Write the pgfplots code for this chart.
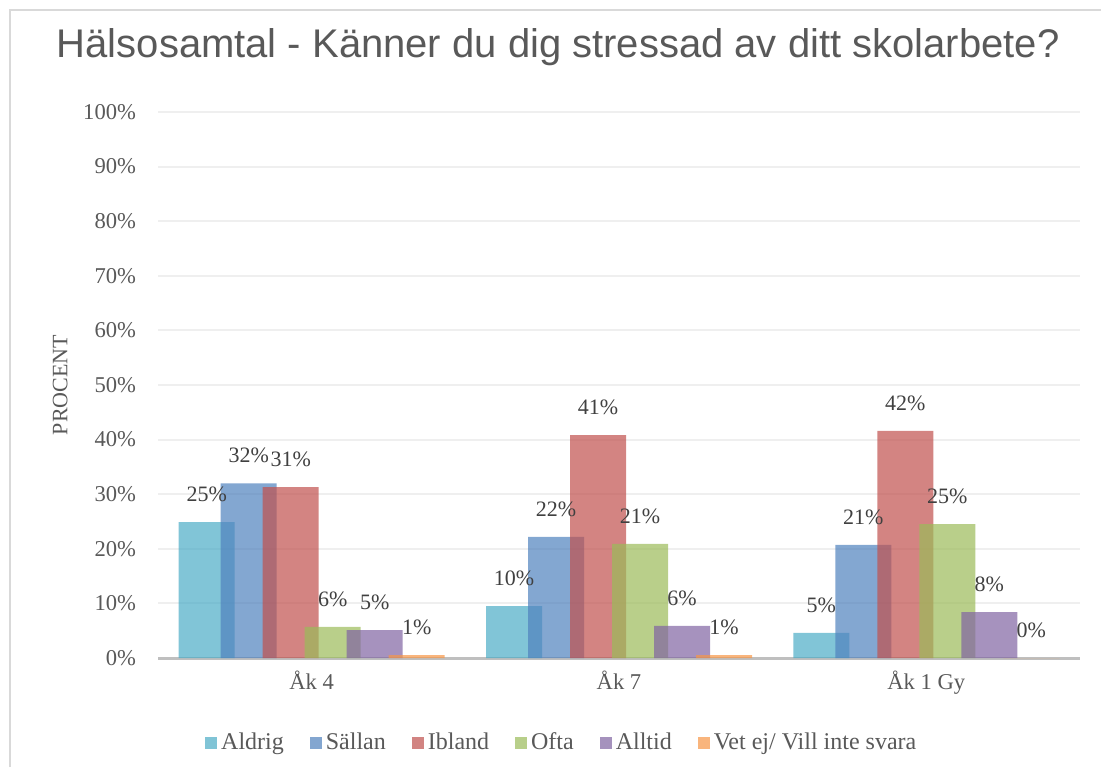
\documentclass[border=0pt]{standalone}
\usepackage{pgfplots}
\pgfplotsset{compat=1.18}
\usepackage{fontspec}
\setmainfont{Liberation Serif}
\newfontfamily\titlefont{Liberation Sans}
\definecolor{cA}{HTML}{4BACC6}
\definecolor{cB}{HTML}{4F81BD}
\definecolor{cC}{HTML}{C0504D}
\definecolor{cD}{HTML}{9BBB59}
\definecolor{cE}{HTML}{8064A2}
\definecolor{cF}{HTML}{F79646}
\definecolor{txt}{HTML}{595959}
\definecolor{lbl}{HTML}{404040}
\definecolor{gridc}{HTML}{EFEFEF}
\definecolor{axc}{HTML}{BFBFBF}
\definecolor{frame}{HTML}{D9D9D9}
\begin{document}
\begin{tikzpicture}
\path[use as bounding box] (-79pt,-54.5pt) rectangle (471.5pt,329pt);
\draw[color=frame, line width=1pt] (-74pt,-54.5pt) -- (-74pt,324pt) -- (471.5pt,324pt);
\begin{axis}[
  at={(0,0)}, anchor=south west,
  scale only axis, width=461pt, height=273pt,
  xmin=-0.5, xmax=2.5, ymin=0, ymax=100,
  xtick={0,1,2}, xticklabels={Åk 4,Åk 7,Åk 1 Gy},
  ytick={0,10,20,30,40,50,60,70,80,90,100},
  yticklabels={0\%,10\%,20\%,30\%,40\%,50\%,60\%,70\%,80\%,90\%,100\%},
  ymajorgrids, major grid style={draw=gridc, line width=1pt},
  axis x line*=bottom, axis y line*=left,
  x axis line style={draw=axc, line width=1.5pt, -},
  y axis line style={draw=none},
  tick style={draw=none}, major tick length=0pt,
  tick label style={font=\fontsize{11.3}{13}\selectfont, text=txt},
  yticklabel style={xshift=-7.5pt},
  xticklabel style={yshift=-3pt},
  ylabel={PROCENT},
  ylabel style={at={(axis description cs:-0.106,0.5)}, anchor=center, font=\fontsize{11}{13}\selectfont, text=txt},
  title={\titlefont\fontsize{20}{24}\selectfont Hälsosamtal - Känner du dig stressad av ditt skolarbete?},
  title style={at={(axis description cs:0.434,1.078)}, anchor=base, text=txt},
  ybar, bar width=28pt,
  every axis plot/.append style={draw=none, fill opacity=0.7},
  nodes near coords, point meta=explicit symbolic,
  every node near coord/.append style={font=\fontsize{11}{13}\selectfont, text=lbl, text opacity=1, yshift=6.5pt},
  legend columns=-1,
  legend style={draw=none, at={(axis description cs:0.439,-0.1557)}, anchor=center,
    font=\fontsize{12}{14}\selectfont, text=txt,
    /tikz/every even column/.append style={column sep=11pt}},
  legend image code/.code={\fill[#1] (0pt,-3pt) rectangle (6pt,3pt);},
]
\addplot[fill=cA, bar shift=-52.5pt] coordinates {(0,24.9)[25\%] (1,9.5)[10\%] (2,4.6)[5\%]};
\addplot[fill=cB, bar shift=-31.5pt] coordinates {(0,32.0)[32\%] (1,22.2)[22\%] (2,20.7)[21\%]};
\addplot[fill=cC, bar shift=-10.5pt] coordinates {(0,31.3)[31\%] (1,40.8)[41\%] (2,41.6)[42\%]};
\addplot[fill=cD, bar shift=10.5pt] coordinates {(0,5.7)[6\%] (1,20.9)[21\%] (2,24.5)[25\%]};
\addplot[fill=cE, bar shift=31.5pt] coordinates {(0,5.1)[5\%] (1,5.9)[6\%] (2,8.4)[8\%]};
\addplot[fill=cF, bar shift=52.5pt] coordinates {(0,0.55)[1\%] (1,0.55)[1\%] (2,0)[0\%]};
\legend{Aldrig, Sällan, Ibland, Ofta, Alltid, Vet ej/ Vill inte svara}
\end{axis}
\end{tikzpicture}
\end{document}
